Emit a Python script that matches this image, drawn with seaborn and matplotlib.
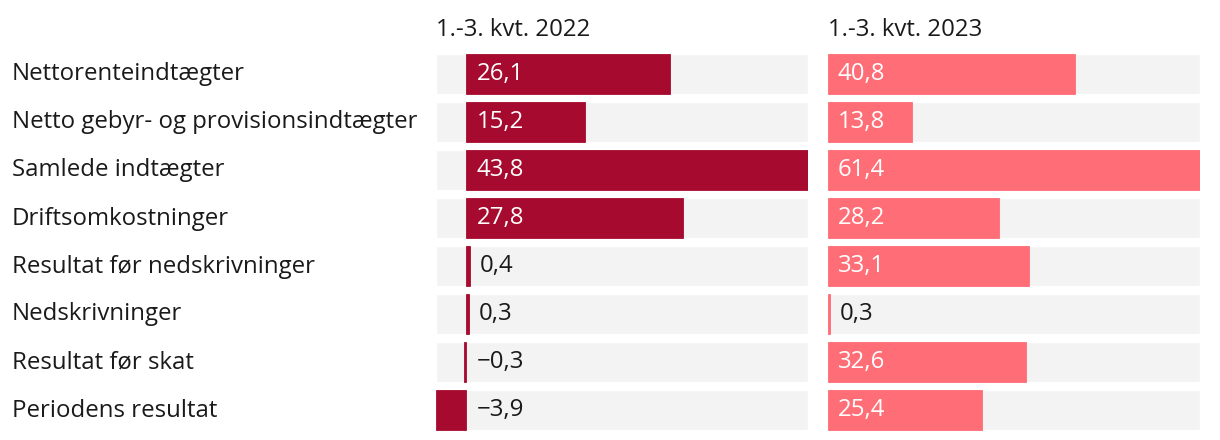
import matplotlib
matplotlib.use("Agg")
import matplotlib.pyplot as plt
import seaborn as sns
import pandas as pd

categories = [
    "Nettorenteindtægter",
    "Netto gebyr- og provisionsindtægter",
    "Samlede indtægter",
    "Driftsomkostninger",
    "Resultat før nedskrivninger",
    "Nedskrivninger",
    "Resultat før skat",
    "Periodens resultat",
]
values_2022 = [26.1, 15.2, 43.8, 27.8, 0.4, 0.3, -0.3, -3.9]
values_2023 = [40.8, 13.8, 61.4, 28.2, 33.1, 0.3, 32.6, 25.4]
headers = ["1.-3. kvt. 2022", "1.-3. kvt. 2023"]

W, H = 1220, 440
DARK = "#A60B2F"
PINK = "#FF6D76"
BG = "#F3F3F3"
TXT = "#1A1A1A"
FS = 17.3

sns.set_style("white")
plt.rcParams["font.family"] = ["Open Sans", "DejaVu Sans"]


def px_axes(fig, x0, x1, y0, y1):
    return fig.add_axes([x0 / W, 1 - y1 / H, (x1 - x0) / W, (y1 - y0) / H])


def fmt(v):
    s = f"{abs(v):.1f}".replace(".", ",")
    return ("\u2212" + s) if v < 0 else s


def draw_panel(ax, values, color, xmin, xmax, header):
    df = pd.DataFrame({"cat": categories, "val": values})
    ax.barh(range(len(categories)), [xmax - xmin] * len(categories), left=xmin,
            height=40 / 48, color=BG, zorder=0)
    sns.barplot(data=df, x="val", y="cat", orient="h", color=color, ax=ax,
                width=40 / 48, saturation=1, zorder=2,
                edgecolor=color, linewidth=0.6)
    ax.set_xlim(xmin, xmax)
    ax.set_ylim(len(categories) - 0.5, -0.5)
    scale = (xmax - xmin) / 372  # data units per pixel
    for i, v in enumerate(values):
        if v > 6:
            ax.text(10 * scale, i, fmt(v), color="white", va="center",
                    ha="left", fontsize=FS, zorder=3)
        else:
            ax.text(max(v, 0) + 10 * scale, i, fmt(v), color=TXT, va="center",
                    ha="left", fontsize=FS, zorder=3)
    ax.axis("off")
    ax.text(xmin, -0.5 - 20 / 48, header, color=TXT, fontsize=FS,
            ha="left", va="center", clip_on=False)


fig = plt.figure(figsize=(W / 100, H / 100), dpi=100)

ax1 = px_axes(fig, 436, 808, 50, 434)
draw_panel(ax1, values_2022, DARK, -3.9, 43.8, headers[0])

ax2 = px_axes(fig, 828, 1200, 50, 434)
draw_panel(ax2, values_2023, PINK, 0, 61.4, headers[1])

for i, c in enumerate(categories):
    fig.text(12 / W, 1 - (74.5 + 48 * i) / H, c, color=TXT, fontsize=FS,
             ha="left", va="center")

fig.savefig("out.png", dpi=100)
